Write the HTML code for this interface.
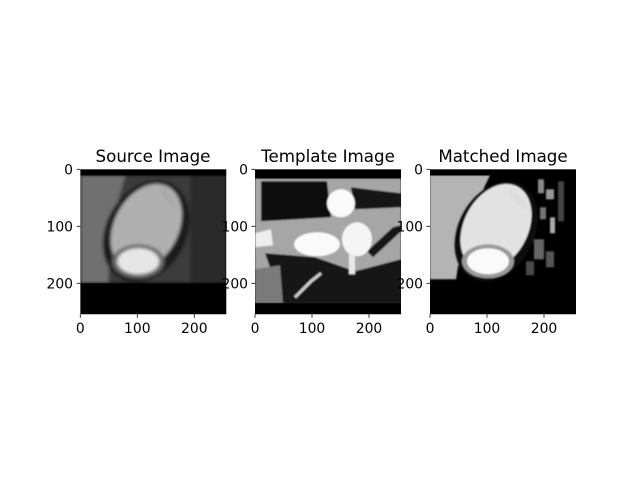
<!DOCTYPE html>
<html><head><meta charset="utf-8"><style>
html,body{margin:0;padding:0;background:#fff;}
svg{display:block;font-family:"DejaVu Sans","Liberation Sans",sans-serif;}
</style></head><body>
<svg width="639" height="479" viewBox="0 0 639 479">
<defs>
<filter id="b" x="-10%" y="-10%" width="120%" height="120%"><feGaussianBlur stdDeviation="1.6"/></filter>
<filter id="b2" x="-10%" y="-10%" width="120%" height="120%"><feGaussianBlur stdDeviation="0.8"/></filter>
<clipPath id="c"><rect x="0" y="0" width="146" height="145"/></clipPath>
</defs>

<g transform="translate(80.3,169.3)">
<g clip-path="url(#c)">
<rect width="146" height="145" fill="#000"/>
<g filter="url(#b)">
<rect y="6" width="146" height="108" fill="#3a3a3a"/>
<polygon points="0,6 45,6 30,60 28,114 0,114" fill="#707070"/>
<rect x="110" y="6" width="36" height="108" fill="#2a2a2a"/>
<ellipse cx="66" cy="62" rx="40" ry="54" transform="rotate(28 66 62)" fill="#1e1e1e"/>
<ellipse cx="66" cy="58" rx="32" ry="46" transform="rotate(28 66 58)" fill="#b0b0b0"/>
<ellipse cx="58" cy="92" rx="26" ry="17" fill="#6a6a6a"/>
<ellipse cx="58" cy="92" rx="21" ry="13" fill="#e6e6e6"/>
<ellipse cx="88" cy="28" rx="4" ry="14" transform="rotate(-40 88 28)" fill="#aaa"/>
</g>
<rect y="114" width="146" height="31" fill="#000"/>
<rect width="146" height="6" fill="#000"/>
</g>
</g>

<g transform="translate(255,169.3)">
<g clip-path="url(#c)">
<rect width="146" height="145" fill="#000"/>
<g filter="url(#b2)">
<rect y="9" width="146" height="125" fill="#a6a6a6"/>
<polygon points="6,12 72,12 76,48 6,52" fill="#111"/>
<polygon points="96,18 146,24 146,38 100,40" fill="#151515"/>
<polygon points="10,84 60,88 100,102 146,90 146,134 0,134 0,118 20,112" fill="#121212"/>
<polygon points="0,100 25,96 28,134 0,134" fill="#7a7a7a"/>
<polygon points="112,82 138,58 146,56 146,62 118,88" fill="#151515"/>
<circle cx="86" cy="34" r="14" fill="#fafafa"/>
<ellipse cx="62" cy="75" rx="23" ry="12" fill="#fafafa"/>
<ellipse cx="102" cy="70" rx="15" ry="17" fill="#f5f5f5"/>
<rect x="94" y="85" width="6" height="20" fill="#e8e8e8"/>
<polyline points="40,128 56,112 66,104" stroke="#ccc" stroke-width="3" fill="none"/>
<polygon points="0,64 16,60 18,76 0,78" fill="#eee"/>
</g>
<rect y="134" width="146" height="11" fill="#000"/>
<rect width="146" height="9" fill="#000"/>
</g>
</g>

<g transform="translate(430,169.3)">
<g clip-path="url(#c)">
<rect width="146" height="145" fill="#000"/>
<g filter="url(#b2)">
<polygon points="0,6 60,6 34,60 26,110 0,110" fill="#b4b4b4"/>
<ellipse cx="66" cy="62" rx="38" ry="53" transform="rotate(28 66 62)" fill="#0c0c0c"/>
<ellipse cx="66" cy="58" rx="32" ry="46" transform="rotate(28 66 58)" fill="#e2e2e2"/>
<ellipse cx="58" cy="92" rx="26" ry="17" fill="#9a9a9a"/>
<ellipse cx="58" cy="92" rx="21" ry="13" fill="#fafafa"/>
<ellipse cx="88" cy="30" rx="4" ry="14" transform="rotate(-40 88 30)" fill="#ddd"/>
<rect x="108" y="10" width="6" height="14" fill="#888"/>
<rect x="116" y="20" width="8" height="10" fill="#999"/>
<rect x="110" y="38" width="6" height="12" fill="#777"/>
<rect x="120" y="48" width="5" height="16" fill="#aaa"/>
<rect x="104" y="70" width="10" height="20" fill="#666"/>
<rect x="116" y="82" width="8" height="16" fill="#555"/>
<rect x="128" y="12" width="6" height="40" fill="#444"/>
<rect x="96" y="92" width="8" height="14" fill="#4a4a4a"/>
</g>
<rect y="112" width="146" height="33" fill="#000"/>
<rect width="146" height="6" fill="#000"/>
</g>
</g>

<g font-size="16.7" fill="#000" text-anchor="middle">
<text x="153" y="162">Source Image</text>
<text x="328" y="162">Template Image</text>
<text x="503" y="162">Matched Image</text>
</g>

<g stroke="#000" stroke-width="0.8">
<line x1="80.3" y1="169.3" x2="76.8" y2="169.3"/><line x1="80.3" y1="226.3" x2="76.8" y2="226.3"/><line x1="80.3" y1="283.3" x2="76.8" y2="283.3"/>
<line x1="80.3" y1="314.3" x2="80.3" y2="317.8"/><line x1="137.3" y1="314.3" x2="137.3" y2="317.8"/><line x1="194.3" y1="314.3" x2="194.3" y2="317.8"/>
<line x1="255" y1="169.3" x2="251.5" y2="169.3"/><line x1="255" y1="226.3" x2="251.5" y2="226.3"/><line x1="255" y1="283.3" x2="251.5" y2="283.3"/>
<line x1="255" y1="314.3" x2="255" y2="317.8"/><line x1="312" y1="314.3" x2="312" y2="317.8"/><line x1="369" y1="314.3" x2="369" y2="317.8"/>
<line x1="430" y1="169.3" x2="426.5" y2="169.3"/><line x1="430" y1="226.3" x2="426.5" y2="226.3"/><line x1="430" y1="283.3" x2="426.5" y2="283.3"/>
<line x1="430" y1="314.3" x2="430" y2="317.8"/><line x1="487" y1="314.3" x2="487" y2="317.8"/><line x1="544" y1="314.3" x2="544" y2="317.8"/>
</g>
<g font-size="13.9" fill="#000">
<g text-anchor="end">
<text x="73" y="174.5">0</text><text x="73" y="231.5">100</text><text x="73" y="288.5">200</text>
<text x="248" y="174.5">0</text><text x="248" y="231.5">100</text><text x="248" y="288.5">200</text>
<text x="423" y="174.5">0</text><text x="423" y="231.5">100</text><text x="423" y="288.5">200</text>
</g>
<g text-anchor="middle">
<text x="80.3" y="333">0</text><text x="137.3" y="333">100</text><text x="194.3" y="333">200</text>
<text x="255" y="333">0</text><text x="312" y="333">100</text><text x="369" y="333">200</text>
<text x="430" y="333">0</text><text x="487" y="333">100</text><text x="544" y="333">200</text>
</g>
</g>
</svg>
</body></html>
